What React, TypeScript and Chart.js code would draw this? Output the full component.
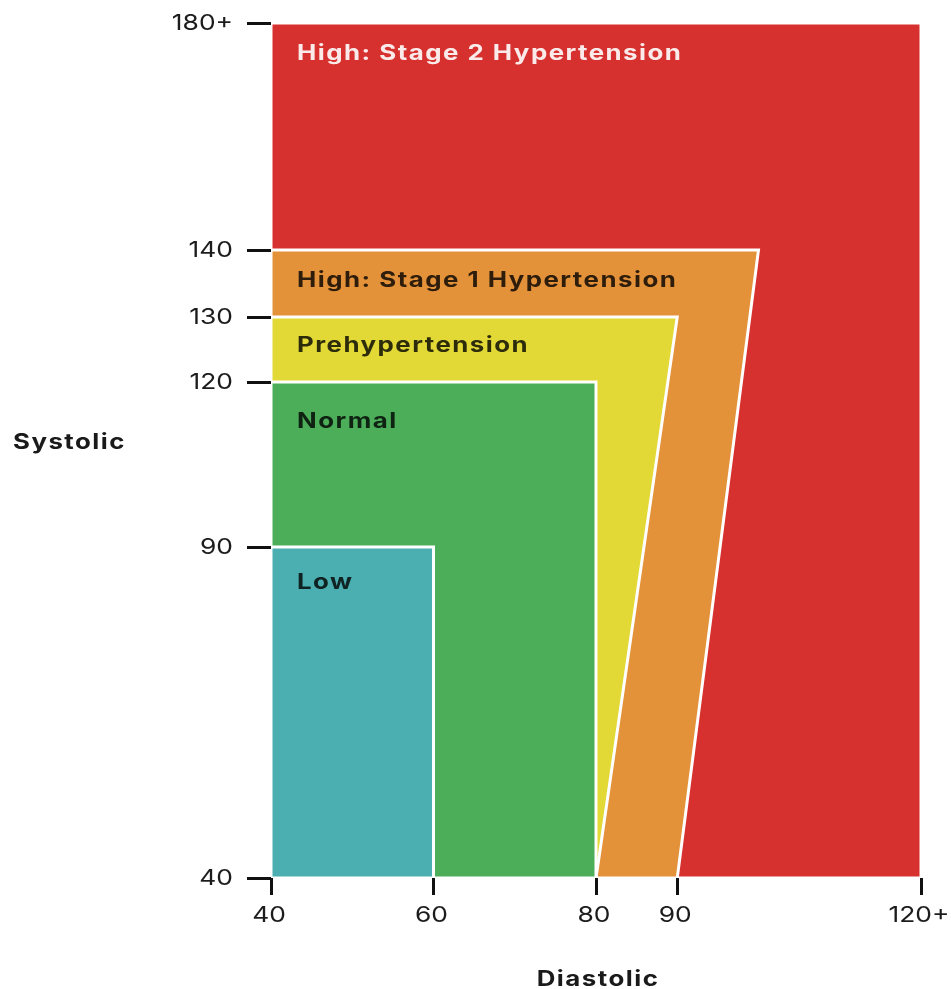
import React, { useEffect, useRef } from 'react';
import { Chart, registerables, LinearScale } from 'chart.js';

// ---- data ----
const diastolicTicks = [40, 60, 80, 90, 120];
const diastolicTickLabels = ['40', '60', '80', '90', '120+'];
const systolicTicks = [40, 90, 120, 130, 140, 180];
const systolicTickLabels = ['40', '90', '120', '130', '140', '180+'];

const zoneNames = ['Low', 'Normal', 'Prehypertension', 'High: Stage 1 Hypertension', 'High: Stage 2 Hypertension'];

// zone outlines as closed polygons: diastolic (x) and systolic (y) values
const lowDiastolic = [40, 60, 60, 40, 40];
const lowSystolic = [90, 90, 40, 40, 90];
const normalDiastolic = [40, 80, 80, 40, 40];
const normalSystolic = [120, 120, 40, 40, 120];
const preDiastolic = [40, 90, 80, 40, 40];
const preSystolic = [130, 130, 40, 40, 130];
const stage1Diastolic = [40, 100, 90, 40, 40];
const stage1Systolic = [140, 140, 40, 40, 140];
const stage2Diastolic = [40, 120, 120, 40, 40];
const stage2Systolic = [180, 180, 40, 40, 180];

// ---- styles ----
const zoneColors = ['#4BAEB0', '#4DAE5A', '#E2D936', '#E4923A', '#D6302F'];
const zoneTextColors = ['rgba(0,0,0,0.8)', 'rgba(0,0,0,0.8)', 'rgba(0,0,0,0.8)', 'rgba(0,0,0,0.8)', 'rgba(255,255,255,0.9)'];
const zoneLabelOffsets = [42, 46, 35, 37, 37];
// the printed systolic axis is not to scale: fraction of axis height at each tick
const systolicAxisStops = [0, 0.3871, 0.5801, 0.6561, 0.7345, 1];
const TEXT_STRETCH = 1.23;
const TICK_STRETCH = 1.2;

const FONT = 'Inter, "Noto Sans", sans-serif';

class SystolicScale extends LinearScale {
  static id = 'systolicPiecewise';
  static defaults = { ticks: { callback: (v: any) => String(v) } };

  toDecimal(v: number) {
    const vals = systolicTicks, fr = systolicAxisStops;
    const n = vals.length - 1;
    let i = 1;
    while (i < n && v > vals[i]) i++;
    return fr[i - 1] + ((v - vals[i - 1]) / (vals[i] - vals[i - 1])) * (fr[i] - fr[i - 1]);
  }
  fromDecimal(d: number) {
    const vals = systolicTicks, fr = systolicAxisStops;
    const n = vals.length - 1;
    let i = 1;
    while (i < n && d > fr[i]) i++;
    return vals[i - 1] + ((d - fr[i - 1]) / (fr[i] - fr[i - 1])) * (vals[i] - vals[i - 1]);
  }
  getPixelForValue(value: any) {
    if (value === null || value === undefined || isNaN(value)) return NaN;
    return this.getPixelForDecimal(this.toDecimal(value));
  }
  getValueForPixel(pixel: number) {
    return this.fromDecimal(this.getDecimalForPixel(pixel));
  }
}

Chart.register(...registerables, SystolicScale);

const zones = [
  { dia: lowDiastolic, sys: lowSystolic },
  { dia: normalDiastolic, sys: normalSystolic },
  { dia: preDiastolic, sys: preSystolic },
  { dia: stage1Diastolic, sys: stage1Systolic },
  { dia: stage2Diastolic, sys: stage2Systolic },
];

function stretchedText(ctx: CanvasRenderingContext2D, text: string, x: number, y: number, k: number) {
  ctx.save();
  ctx.translate(x, y);
  ctx.scale(k, 1);
  ctx.fillText(text, 0, 0);
  ctx.restore();
}

const labelPlugin = {
  id: 'zoneLabels',
  afterDraw(chart: any) {
    const { ctx, chartArea, scales } = chart;
    const y = scales.y;
    const x = scales.x;
    ctx.save();
    // zone labels
    ctx.font = `700 21px ${FONT}`;
    ctx.letterSpacing = '1.2px';
    ctx.textAlign = 'left';
    ctx.textBaseline = 'alphabetic';
    zones.forEach((z, i) => {
      const top = Math.max(...z.sys);
      ctx.fillStyle = zoneTextColors[i];
      stretchedText(ctx, zoneNames[i], chartArea.left + 26, y.getPixelForValue(top) + zoneLabelOffsets[i], TEXT_STRETCH);
    });
    // axis titles
    ctx.fillStyle = '#1a1a1a';
    stretchedText(ctx, 'Systolic', 13, (chartArea.top + chartArea.bottom) / 2 - 1.5, TEXT_STRETCH);
    ctx.textAlign = 'center';
    stretchedText(ctx, 'Diastolic', (chartArea.left + chartArea.right) / 2 + 2, chartArea.bottom + 108, TEXT_STRETCH);
    // tick labels
    ctx.font = `400 22px ${FONT}`;
    ctx.letterSpacing = '0px';
    ctx.fillStyle = '#1c1c1c';
    ctx.textAlign = 'right';
    ctx.textBaseline = 'middle';
    systolicTicks.forEach((v, i) => {
      stretchedText(ctx, systolicTickLabels[i], y.right - 38, y.getPixelForValue(v), TICK_STRETCH);
    });
    ctx.textAlign = 'center';
    ctx.textBaseline = 'alphabetic';
    diastolicTicks.forEach((v, i) => {
      stretchedText(ctx, diastolicTickLabels[i], x.getPixelForValue(v) - 2, x.top + 44, TICK_STRETCH);
    });
    ctx.restore();
  },
};

export default function App() {
  const canvasRef = useRef<HTMLCanvasElement | null>(null);

  useEffect(() => {
    if (!canvasRef.current) return;
    const chart = new Chart(canvasRef.current, {
      type: 'line',
      data: {
        datasets: zones.map((z, i) => ({
          label: zoneNames[i],
          data: z.dia.map((x, k) => ({ x, y: z.sys[k] })),
          backgroundColor: zoneColors[i],
          borderColor: '#ffffff',
          borderWidth: 3,
          borderJoinStyle: 'miter',
          fill: 'shape',
          pointRadius: 0,
          pointHoverRadius: 0,
          tension: 0,
        })),
      },
      options: {
        animation: false,
        responsive: true,
        maintainAspectRatio: false,
        events: [],
        layout: { padding: { top: 23, right: 30, bottom: 0, left: 0 } },
        plugins: {
          legend: { display: false },
          tooltip: { enabled: false },
        },
        scales: {
          x: {
            type: 'linear',
            min: 40,
            max: 120,
            afterBuildTicks: (s: any) => {
              s.ticks = diastolicTicks.map((v) => ({ value: v }));
            },
            afterFit: (s: any) => {
              s.height = 111;
              s.paddingLeft = 0;
              s.paddingRight = 0;
            },
            ticks: {
              display: false,
              autoSkip: false,
              callback: (v: any) => diastolicTickLabels[diastolicTicks.indexOf(Number(v))] ?? '',
            },
            grid: {
              drawOnChartArea: false,
              drawTicks: true,
              tickLength: 17,
              tickWidth: 3,
              tickColor: '#111111',
            },
            border: { display: false },
          },
          y: {
            type: 'systolicPiecewise',
            min: 40,
            max: 180,
            afterBuildTicks: (s: any) => {
              s.ticks = systolicTicks.map((v) => ({ value: v }));
            },
            afterFit: (s: any) => {
              s.width = 271;
              s.paddingTop = 0;
              s.paddingBottom = 0;
            },
            ticks: {
              display: false,
              autoSkip: false,
              callback: (v: any) => systolicTickLabels[systolicTicks.indexOf(Number(v))] ?? '',
            },
            grid: {
              drawOnChartArea: false,
              drawTicks: true,
              tickLength: 24,
              tickWidth: 3,
              tickColor: '#111111',
            },
            border: { display: false },
          },
        },
      },
      plugins: [labelPlugin],
    } as any);
    return () => chart.destroy();
  }, []);

  return (
    <div style={{ position: 'fixed', left: 0, top: 0, width: 951, height: 989, background: '#ffffff' }}>
      <canvas ref={canvasRef} />
    </div>
  );
}
